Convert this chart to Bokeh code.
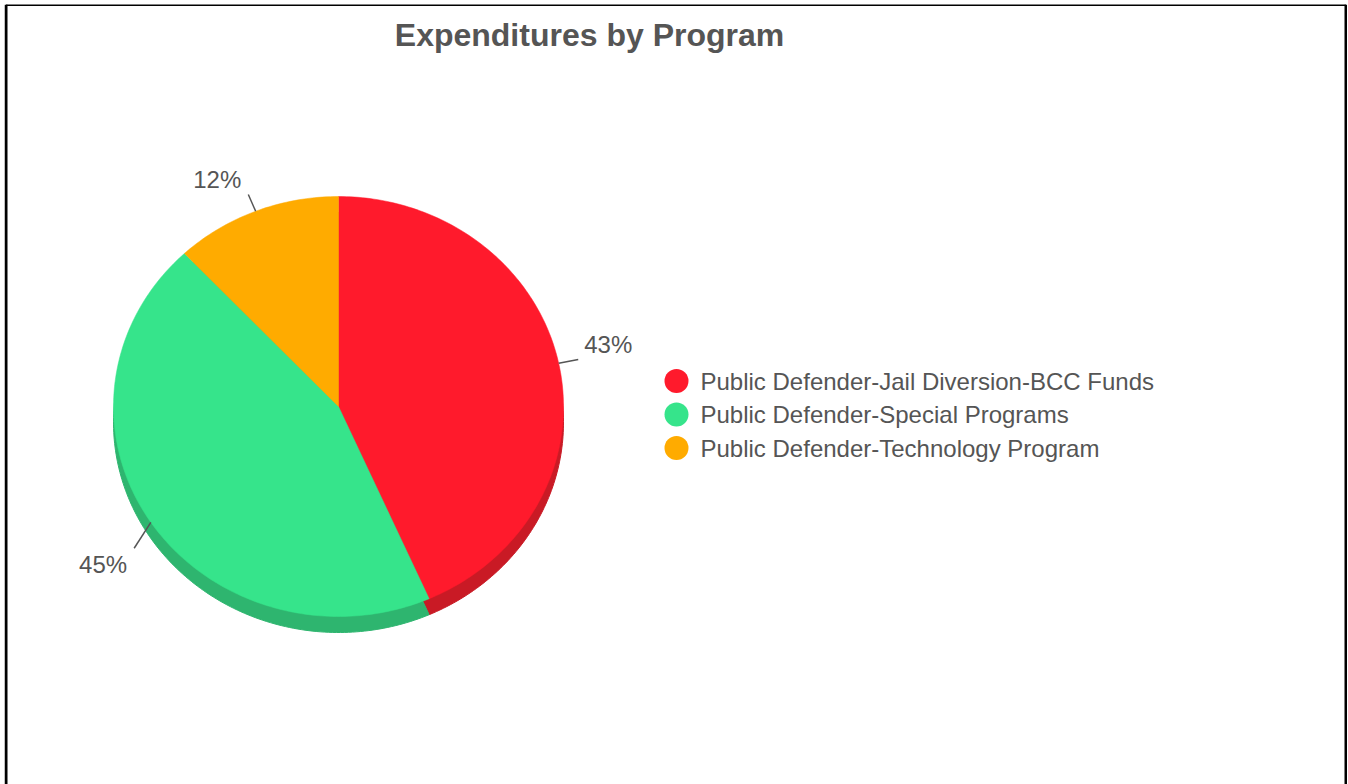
import numpy as np
from bokeh.plotting import figure
from bokeh.models import Range1d
from bokeh.core.properties import value
from bokeh.embed import file_html
from bokeh.resources import INLINE

# ---- data ----
title = "Expenditures by Program"
categories = [
    "Public Defender-Jail Diversion-BCC Funds",
    "Public Defender-Special Programs",
    "Public Defender-Technology Program",
]
shares = [43.4, 44.6, 12.0]
colors = ["#ff1a2c", "#36e48b", "#ffab00"]
side_colors = ["#c91a25", "#2eb56f", "#cc8900"]

# ---- layout constants ----
W, H = 1343, 780
X0, Y0 = 4, 4
CX, CY = 338, 406
RX, RY = 225, 210
DEPTH = 16
TEXT_COLOR = "#555555"
FONT = value("Liberation Sans")

p = figure(width=W, height=H,
           x_range=Range1d(X0, X0 + W), y_range=Range1d(Y0 + H, Y0),
           output_backend="svg", toolbar_location=None,
           x_axis_location=None, y_axis_location=None,
           min_border=0, margin=(4, 0, 0, 4))
p.grid.visible = False
p.outline_line_color = None
p.background_fill_color = "white"
p.border_fill_color = "white"

# border (open at bottom)
p.segment(x0=[X0 + 1.5, X0 + 1.5, X0 + W - 1.5], y0=[Y0 + H + 5, Y0, Y0],
          x1=[X0 + 1.5, X0 + W - 1.5, X0 + W - 1.5], y1=[Y0, Y0, Y0 + H + 5],
          line_color="black", line_width=3)

# ---- pie ----
vals = np.array(shares, dtype=float)
frac = vals / vals.sum()
cum = np.concatenate([[0.0], np.cumsum(frac)])


def slice_poly(a0, a1, dy=0.0):
    n = max(int((a1 - a0) * 360), 4)
    th = np.linspace(a0, a1, n) * 2 * np.pi
    xs = np.concatenate([[CX], CX + RX * np.sin(th)])
    ys = np.concatenate([[CY + dy], CY - RY * np.cos(th) + dy])
    return list(xs), list(ys)


side_xs, side_ys, top_xs, top_ys = [], [], [], []
for i in range(len(vals)):
    xs, ys = slice_poly(cum[i], cum[i + 1], DEPTH)
    side_xs.append(xs); side_ys.append(ys)
    xs, ys = slice_poly(cum[i], cum[i + 1])
    top_xs.append(xs); top_ys.append(ys)

p.patches(side_xs, side_ys, fill_color=side_colors, line_color=side_colors, line_width=1)
p.patches(top_xs, top_ys, fill_color=colors, line_color=colors, line_width=0.5)

# ---- data labels with connectors ----
lx0, ly0, lx1, ly1 = [], [], [], []
rt_x, rt_y, rt_t = [], [], []
lt_x, lt_y, lt_t = [], [], []
for i in range(len(vals)):
    mid = (cum[i] + cum[i + 1]) / 2 * 2 * np.pi
    s, c = np.sin(mid), np.cos(mid)
    ex, ey = CX + RX * s, CY - RY * c
    tx = CX + (RX + 20) * s
    ty = CY - (RY + 18) * c + (DEPTH if c < 0 else 0)
    lx0.append(ex); ly0.append(ey); lx1.append(tx); ly1.append(ty)
    label = f"{round(frac[i] * 100):.0f}%"
    yy = ty - 15 if c > 0 else ty + 16
    if s >= 0:
        rt_x.append(tx + 6); rt_y.append(yy); rt_t.append(label)
    else:
        lt_x.append(tx - 7); lt_y.append(yy); lt_t.append(label)

p.segment(x0=lx0, y0=ly0, x1=lx1, y1=ly1, line_color="#555555", line_width=1.5)
p.text(x=rt_x, y=rt_y, text=rt_t, text_align="left", text_baseline="middle",
       text_font=FONT, text_font_size="24px", text_color=TEXT_COLOR)
p.text(x=lt_x, y=lt_y, text=lt_t, text_align="right", text_baseline="middle",
       text_font=FONT, text_font_size="24px", text_color=TEXT_COLOR)

# ---- legend ----
LEG_X, LEG_Y, LEG_DY = 676, 380.5, 33.5
leg_y = [LEG_Y + i * LEG_DY for i in range(len(categories))]
p.scatter(x=[LEG_X] * len(categories), y=leg_y, size=24, marker="circle",
          fill_color=colors, line_color=None)
p.text(x=[LEG_X + 24] * len(categories), y=leg_y, text=categories,
       text_align="left", text_baseline="middle", text_font=FONT,
       text_font_size="24px", text_color=TEXT_COLOR)

# ---- title ----
p.text(x=[589], y=[34], text=[title], text_align="center", text_baseline="middle",
       text_font=FONT, text_font_size="32px", text_font_style="bold",
       text_color=TEXT_COLOR)

open("out.html", "w").write(file_html(p, INLINE))
